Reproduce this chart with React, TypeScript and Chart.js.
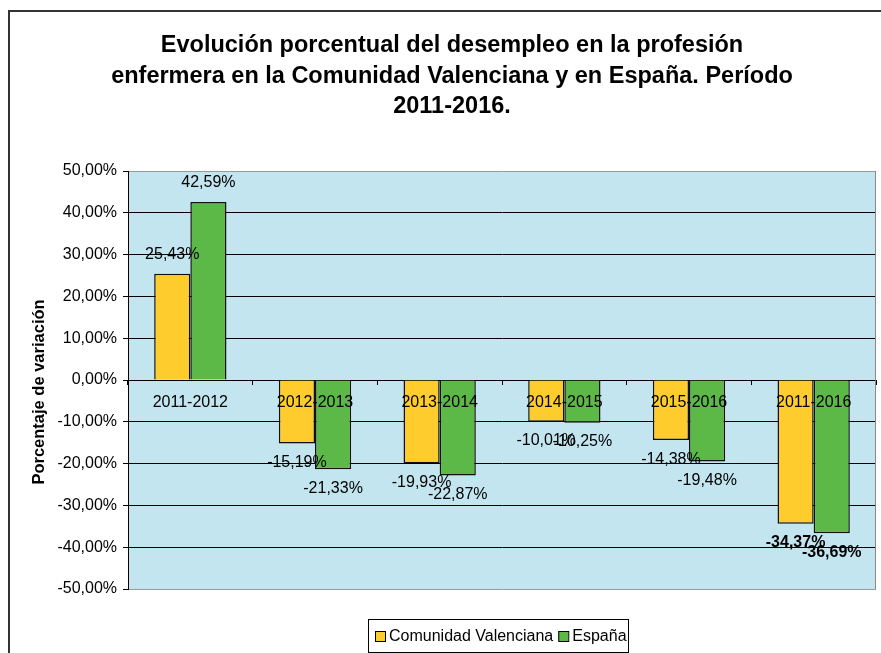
import React, { useEffect, useRef } from "react";
import { Chart, registerables } from "chart.js";

Chart.register(...registerables);

const categories = ["2011-2012", "2012-2013", "2013-2014", "2014-2015", "2015-2016", "2011-2016"];
const comunidadValenciana = [25.43, -15.19, -19.93, -10.01, -14.38, -34.37];
const espana = [42.59, -21.33, -22.87, -10.25, -19.48, -36.69];
const seriesNames = ["Comunidad Valenciana", "España"];
const titleLines = [
  "Evolución porcentual del desempleo en la profesión",
  "enfermera en la Comunidad Valenciana y en España. Período",
  "2011-2016.",
];
const yTitle = "Porcentaje de variación";

const FONT = "'Liberation Sans', Arial, sans-serif";
const YELLOW = "#FFCC2E";
const GREEN = "#5DB947";
const PLOT_BG = "#C3E5EF";

const fmt = (v: number) => v.toFixed(2).replace(".", ",") + "%";

const decorPlugin = {
  id: "decor",
  beforeDraw(chart: any) {
    const { ctx, chartArea } = chart;
    ctx.save();
    ctx.fillStyle = "#ffffff";
    ctx.fillRect(0, 0, chart.width, chart.height);
    ctx.fillStyle = PLOT_BG;
    ctx.fillRect(chartArea.left, chartArea.top, chartArea.right - chartArea.left, chartArea.bottom - chartArea.top);
    ctx.restore();
  },
  afterDraw(chart: any) {
    const { ctx, chartArea } = chart;
    ctx.save();
    // outer border
    ctx.strokeStyle = "#333";
    ctx.lineWidth = 2;
    ctx.beginPath();
    ctx.moveTo(9, chart.height);
    ctx.lineTo(9, 11);
    ctx.lineTo(chart.width, 11);
    ctx.stroke();

    // right plot border
    ctx.strokeStyle = "#888";
    ctx.lineWidth = 1;
    ctx.beginPath();
    ctx.moveTo(chartArea.right - 0.5, chartArea.top);
    ctx.lineTo(chartArea.right - 0.5, chartArea.bottom);
    ctx.stroke();

    // title
    ctx.fillStyle = "#000";
    ctx.font = `bold 23.5px ${FONT}`;
    ctx.textAlign = "center";
    ctx.textBaseline = "middle";
    titleLines.forEach((l, i) => ctx.fillText(l, 452, 46 + i * 30.5));

    // y title
    ctx.save();
    ctx.translate(39, 392);
    ctx.rotate(-Math.PI / 2);
    ctx.font = `bold 16.5px ${FONT}`;
    ctx.fillText(yTitle, 0, 0);
    ctx.restore();

    // legend
    const lx = 368, ly = 619, lw = 260, lh = 33;
    ctx.strokeStyle = "#000";
    ctx.lineWidth = 1;
    ctx.strokeRect(lx + 0.5, ly + 0.5, lw, lh);
    ctx.font = `16px ${FONT}`;
    ctx.textAlign = "left";
    const cy = ly + 17;
    const colors = [YELLOW, GREEN];
    let x = 375;
    seriesNames.forEach((n, i) => {
      ctx.fillStyle = colors[i];
      ctx.fillRect(x, cy - 5, 10, 10);
      ctx.strokeStyle = "#000";
      ctx.strokeRect(x + 0.5, cy - 5 + 0.5, 10, 10);
      ctx.fillStyle = "#000";
      ctx.fillText(n, x + 14, cy + 1);
      x += 14 + ctx.measureText(n).width + 5;
    });
    ctx.restore();
  },
  afterDatasetsDraw(chart: any) {
    const { ctx } = chart;
    ctx.save();
    ctx.fillStyle = "#000";
    ctx.textAlign = "center";
    ctx.textBaseline = "middle";
    // category labels drawn over bars
    const xs = chart.scales.x;
    const y0 = chart.scales.y.getPixelForValue(0);
    ctx.font = `16px ${FONT}`;
    categories.forEach((c, i) => {
      ctx.fillText(c, xs.getPixelForValue(i), y0 + 23);
    });
    chart.data.datasets.forEach((ds: any, di: number) => {
      const meta = chart.getDatasetMeta(di);
      meta.data.forEach((el: any, i: number) => {
        const v = ds.data[i];
        const last = i === ds.data.length - 1;
        ctx.font = `${last ? "bold " : ""}16px ${FONT}`;
        const y = v >= 0 ? el.y - 19 : el.y + 19;
        ctx.fillText(fmt(v), el.x, y);
      });
    });
    ctx.restore();
  },
};

export default function App() {
  const ref = useRef<HTMLCanvasElement>(null);
  useEffect(() => {
    if (!ref.current) return;
    const chart = new Chart(ref.current, {
      type: "bar",
      data: {
        labels: categories,
        datasets: [
          {
            label: seriesNames[0],
            data: comunidadValenciana,
            backgroundColor: YELLOW,
            borderColor: "#111",
            borderWidth: 1.5,
          },
          {
            label: seriesNames[1],
            data: espana,
            backgroundColor: GREEN,
            borderColor: "#111",
            borderWidth: 1.5,
          },
        ],
      },
      options: {
        responsive: false,
        animation: false,
        devicePixelRatio: 1,
        layout: { padding: { left: 0, right: 5, top: 171, bottom: 64 } },
        datasets: { bar: { categoryPercentage: 0.58, barPercentage: 1 } },
        plugins: {
          legend: { display: false },
          title: { display: false },
          tooltip: { enabled: false },
        },
        scales: {
          x: {
            position: { y: 0 },
            grid: {
              offset: true,
              drawOnChartArea: false,
              drawTicks: true,
              tickLength: 4,
              color: "#000",
            },
            border: { display: true, color: "#000" },
            ticks: {
              display: false,
            },
          },
          y: {
            min: -50,
            max: 50,
            afterFit: (s: any) => {
              s.width = 128;
            },
            grid: {
              color: (c: any) => (c.tick && Math.abs(c.tick.value) === 50 ? "#999" : "#000"),
              tickColor: "#000",
              tickLength: 5,
            },
            border: { display: true, color: "#000" },
            ticks: {
              stepSize: 10,
              color: "#000",
              padding: 6,
              font: { family: FONT, size: 16 },
              callback: (v: any) => fmt(Number(v)),
            },
          },
        },
      },
      plugins: [decorPlugin],
    });
    return () => chart.destroy();
  }, []);
  return (
    <div style={{ position: "fixed", left: 0, top: 0, width: 881, height: 653 }}>
      <canvas ref={ref} width={881} height={653} style={{ display: "block", width: 881, height: 653 }} />
    </div>
  );
}
